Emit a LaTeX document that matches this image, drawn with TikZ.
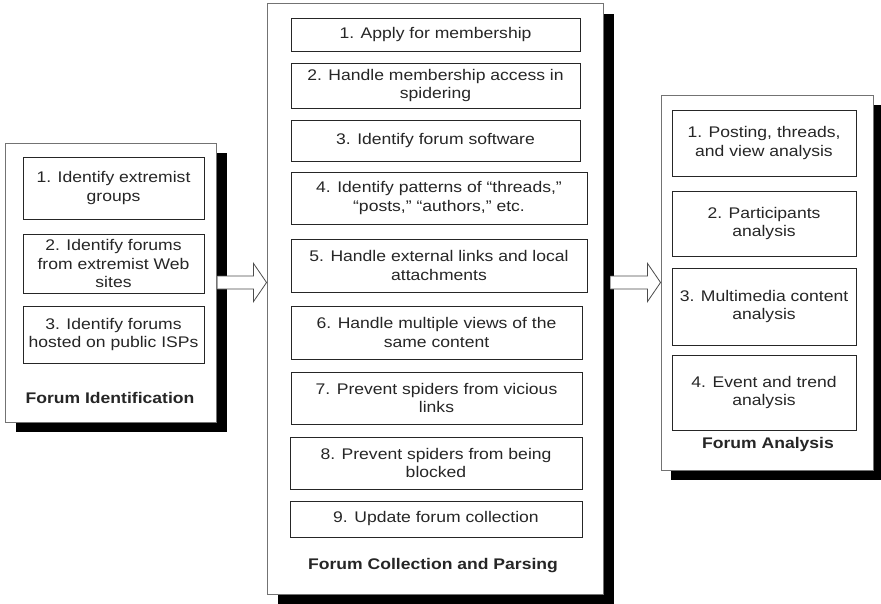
\documentclass[tikz,border=0pt]{standalone}
\usepackage{fontspec}
\setmainfont{Liberation Sans}[FakeStretch=1.14]
\usetikzlibrary{shadows,calc}

% block arrow between two named points: #1 = tail, #2 = tip
\newcommand\flowarrow[2]{%
  \draw[blockarrow]
    ($(#1)+(0,-6.5)$) -- ($(#2)+(-13,-6.5)$) -- ($(#2)+(-13,-19)$) -- (#2)
    -- ($(#2)+(-13,19)$) -- ($(#2)+(-13,6.5)$) -- ($(#1)+(0,6.5)$);}

\begin{document}
\begin{tikzpicture}[x=1pt,y=-1pt,
  every node/.style={font=\fontsize{15.4}{18.5}\selectfont, text=black!85},
  panel/.style={draw=black!55, line width=0.9pt, fill=white, inner sep=0pt},
  stepbox/.style={draw=black!85, line width=0.9pt, fill=white, inner sep=0pt, align=center},
  caption/.style={font=\fontsize{15.4}{18.5}\selectfont\bfseries},
  blockarrow/.style={draw=black!70, line width=0.8pt, fill=white, line join=miter}]

\useasboundingbox (0,0) rectangle (881,604);

% stage panels with solid drop shadows
\node[panel, minimum width=211, minimum height=279,
      drop shadow={shadow xshift=11pt, shadow yshift=-10pt, opacity=1, fill=black}]
      (P1) at (110.5,282.5) {};
\node[panel, minimum width=336, minimum height=591,
      drop shadow={shadow xshift=11pt, shadow yshift=-11pt, opacity=1, fill=black}]
      (P2) at (435,298.5) {};
\node[panel, minimum width=212, minimum height=375,
      drop shadow={shadow xshift=10pt, shadow yshift=-10pt, opacity=1, fill=black}]
      (P3) at (767,282.5) {};

% arrows between the stages
\coordinate (a1s) at ($(P1.east)+(1,0)$);
\coordinate (a1e) at (P2.west |- P1.east);
\coordinate (a2s) at ($(P2.east |- P3.west)+(7,0)$);
\coordinate (a2e) at (P3.west);
\flowarrow{a1s}{a1e}
\flowarrow{a2s}{a2e}

% Forum Identification
\node[stepbox, minimum width=181, minimum height=62] (l1) at (113.5,188)
  {1. Identify extremist\\groups};
\node[stepbox, minimum width=181, minimum height=59] (l2) at (113.5,263.5)
  {2. Identify forums\\from extremist Web\\sites};
\node[stepbox, minimum width=181, minimum height=57] (l3) at (113.5,334.5)
  {3. Identify forums\\hosted on public ISPs};
\node[caption] (c1) at (110,398) {Forum Identification};

% Forum Collection and Parsing
\node[stepbox, minimum width=289, minimum height=33] (m1) at (435.5,34.5)
  {1. Apply for membership};
\node[stepbox, minimum width=289, minimum height=45] (m2) at (435.5,85.5)
  {2. Handle membership access in\\spidering};
\node[stepbox, minimum width=289, minimum height=41] (m3) at (435.5,140.5)
  {3. Identify forum software};
\node[stepbox, minimum width=296, minimum height=52] (m4) at (439,198)
  {4. Identify patterns of “threads,”\\“posts,” “authors,” etc.};
\node[stepbox, minimum width=296, minimum height=53] (m5) at (439,265.5)
  {5. Handle external links and local\\attachments};
\node[stepbox, minimum width=291, minimum height=53] (m6) at (436.5,332.5)
  {6. Handle multiple views of the\\same content};
\node[stepbox, minimum width=291, minimum height=52] (m7) at (436.5,398)
  {7. Prevent spiders from vicious\\links};
\node[stepbox, minimum width=292, minimum height=52] (m8) at (436,463)
  {8. Prevent spiders from being\\blocked};
\node[stepbox, minimum width=292, minimum height=36] (m9) at (436,519)
  {9. Update forum collection};
\node[caption] (c2) at (433,566) {Forum Collection and Parsing};

% Forum Analysis
\node[stepbox, minimum width=184, minimum height=66] (r1) at (764,143)
  {1. Posting, threads,\\and view analysis};
\node[stepbox, minimum width=184, minimum height=65] (r2) at (764,223.5)
  {2. Participants\\analysis};
\node[stepbox, minimum width=184, minimum height=77] (r3) at (764,306.5)
  {3. Multimedia content\\analysis};
\node[stepbox, minimum width=184, minimum height=75] (r4) at (764,392.5)
  {4. Event and trend\\analysis};
\node[caption] (c3) at (768,445) {Forum Analysis};

\end{tikzpicture}
\end{document}
